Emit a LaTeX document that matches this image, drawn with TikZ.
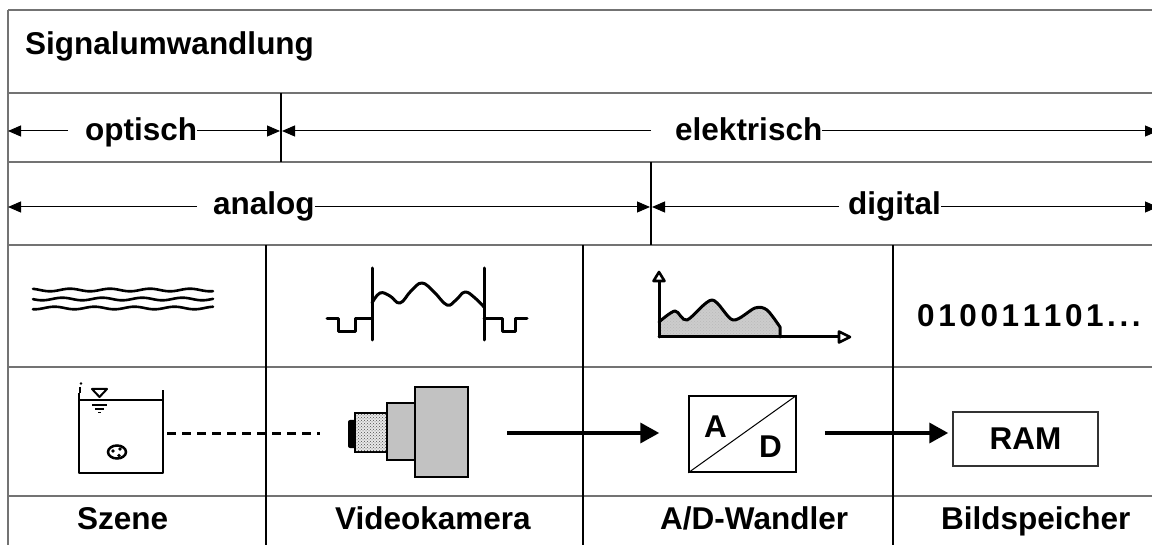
\documentclass[tikz,border=0pt]{standalone}
\usepackage{fontspec}
\setmainfont{Liberation Sans}
\usetikzlibrary{arrows.meta,patterns,calc}
\definecolor{gridgray}{gray}{0.45}
\definecolor{camgray}{gray}{0.76}
\definecolor{fillgray}{gray}{0.8}
\newcommand{\bitgap}{\kern3.6pt}
\begin{document}
\begin{tikzpicture}[x=1pt,y=-1pt,
  grid/.style={line width=1.7pt, draw=gridgray},
  colline/.style={line width=1.1pt, draw=black},
  lbl/.style={font=\fontsize{31.5}{36}\selectfont\bfseries, inner sep=0pt, anchor=base west},
  dimline/.style={line width=1pt, -{Triangle[length=13pt,width=11pt]}},
  flow/.style={line width=3.6pt, -{Triangle[length=19pt,width=20pt]}},
  icon/.style={line width=3pt, line join=round, line cap=round},
]
\clip (0,0) rectangle (1152,545);
\fill[white] (0,0) rectangle (1152,545);

% table frame and row rules
\draw[grid] (8,10) -- (1160,10);
\draw[grid] (8,10) -- (8,550);
\foreach \yy in {93,162,245,367,496}
  \draw[grid] (8,\yy) -- (1160,\yy);

% vertical separators
\draw[colline] (281,93) -- (281,162);
\draw[colline] (651,162) -- (651,245);
\foreach \xx in {266,583,893}
  \draw[colline] (\xx,245) -- (\xx,550);

% title
\node[lbl] (title) at (25,55) {Signalumwandlung};

% domain labels with dimension arrows
\coordinate (rowA) at (0,131);
\coordinate (rowB) at (0,207);
\node[lbl] (opt) at (85,141) {optisch};
\node[lbl] (elek) at (675,141) {elektrisch};
\node[lbl] (ana) at (213,215) {analog};
\node[lbl] (dig) at (848,215) {digital};

\coordinate (optL) at (8,131);
\coordinate (optG) at (68,131);
\coordinate (optR) at (280,131);
\coordinate (elL) at (282,131);
\coordinate (elG) at (651,131);
\coordinate (elR) at (1158,131);
\coordinate (anL) at (8,207);
\coordinate (anG) at (197,207);
\coordinate (anR) at (650,207);
\coordinate (diL) at (652,207);
\coordinate (diG) at (839,207);
\coordinate (diR) at (1158,207);

\draw[dimline] (optG) -- (optL);
\draw[dimline] (opt.east |- rowA) -- (optR);
\draw[dimline] (elG) -- (elL);
\draw[dimline] (elek.east |- rowA) -- (elR);
\draw[dimline] (anG) -- (anL);
\draw[dimline] (ana.east |- rowB) -- (anR);
\draw[dimline] (diG) -- (diL);
\draw[dimline] (dig.east |- rowB) -- (diR);

% light waves
\foreach \yy/\ph in {290/0,299/70,308/140}
  \draw[line width=2.6pt, line cap=round]
    plot[domain=33:213, samples=90] (\x, {\yy+1.3*sin(9*\x+\ph)});

% video signal
\draw[icon] (327,319) -- (338,319) -- (338,332) -- (355,332) -- (355,319) -- (372,319);
\draw[icon] (372,268) -- (372,340);
\draw[icon] (484,268) -- (484,340);
\draw[icon] (484,319) -- (502,319) -- (502,332) -- (515,332) -- (515,319) -- (527,319);
\draw[icon] plot[smooth, tension=0.7] coordinates
  {(372,303) (380,293) (390,296) (400,303) (411,291) (422,283) (434,292)
   (447,305) (456,300) (465,292) (475,298) (484,307)};

% sampled spectrum
\fill[fillgray] plot[smooth, tension=0.5] coordinates
  {(659,322) (675,311) (687,320) (712,300) (733,320) (755,308) (767,310) (780,327)}
  -- (780,337) -- (659,337) -- cycle;
\fill[pattern=crosshatch dots, pattern color=gray!55] plot[smooth, tension=0.5] coordinates
  {(659,322) (675,311) (687,320) (712,300) (733,320) (755,308) (767,310) (780,327)}
  -- (780,337) -- (659,337) -- cycle;
\draw[icon] plot[smooth, tension=0.5] coordinates
  {(659,322) (675,311) (687,320) (712,300) (733,320) (755,308) (767,310) (780,327)}
  -- (780,337);
\draw[icon] (659,337) -- (659,281);
\draw[icon] (659,337) -- (839,337);
\draw[line width=2.6pt, line join=round, fill=white] (659,272) -- (664.5,281) -- (653.5,281) -- cycle;
\draw[line width=2.6pt, line join=round, fill=white] (850,337) -- (839,331.5) -- (839,342.5) -- cycle;

% binary data
\node[lbl] (bits) at (917,327) {0\bitgap1\bitgap0\bitgap0\bitgap1\bitgap1\bitgap1\bitgap0\bitgap1\bitgap.\bitgap.\bitgap.};

% scene: water tank with object
\draw[line width=2.5pt, line join=round] (79,393) -- (79,473) -- (163,473) -- (163,390);
\draw[line width=2.5pt] (79,400) -- (163,400);
\draw[line width=2pt, line join=round] (92,389) -- (107,389) -- (99.5,397) -- cycle;
\draw[line width=1.8pt] (92,405) -- (107,405);
\draw[line width=1.8pt] (95,409) -- (104,409);
\draw[line width=1.5pt] (98,412.5) -- (101,412.5);
\draw[line width=1.5pt] (80,387) -- (80,393);
\fill (81,383.5) circle (1.4);
\draw[line width=2.5pt] (117,452) ellipse (9 and 6.5);
\fill (113,451) circle (1.8);
\fill (120,449) circle (1.8);
\fill (119,455.5) circle (1.8);
\coordinate (tankR) at (167,433);

% video camera
\draw[line width=2pt, fill=camgray] (415,387) rectangle (468,477);
\draw[line width=2pt, fill=camgray] (387,403) rectangle (415,460);
\fill[rounded corners=2pt] (348,420) rectangle (358,448);
\draw[line width=1.5pt, fill=gray!18] (355,413) rectangle (387,452);
\fill[pattern=crosshatch dots, pattern color=gray!60!black] (356,414) rectangle (386,451);
\coordinate (camL) at (320,433);
\coordinate (camR) at (507,433);

\draw[line width=3pt, dash pattern=on 9pt off 6pt] (tankR) -- (camL);

% converter and memory
\node[draw, line width=1.5pt, minimum width=107pt, minimum height=76pt, inner sep=0pt] (ad) at (742.5,434) {};
\draw[line width=1pt] (ad.south west) -- (ad.north east);
\node[lbl] (adA) at (704,437) {A};
\node[lbl] (adD) at (759,457) {D};
\node[draw=black!80, line width=1.5pt, minimum width=145pt, minimum height=54pt, inner sep=0pt,
      font=\fontsize{31.5}{36}\selectfont\bfseries] (ram) at (1025.5,439) {RAM};

\draw[flow] (camR) -- ($(ad.west)+(-29,-1)$);
\draw[flow] ($(ad.east)+(28,-1)$) -- ($(ram.west |- ad.east)+(-4,-1)$);

% component names
\node[lbl] (szene) at (77,529) {Szene};
\node[lbl] (kamera) at (335,529) {Videokamera};
\node[lbl] (wandler) at (660,529) {A/D-Wandler};
\node[lbl] (speicher) at (941,529) {Bildspeicher};
\end{tikzpicture}
\end{document}
